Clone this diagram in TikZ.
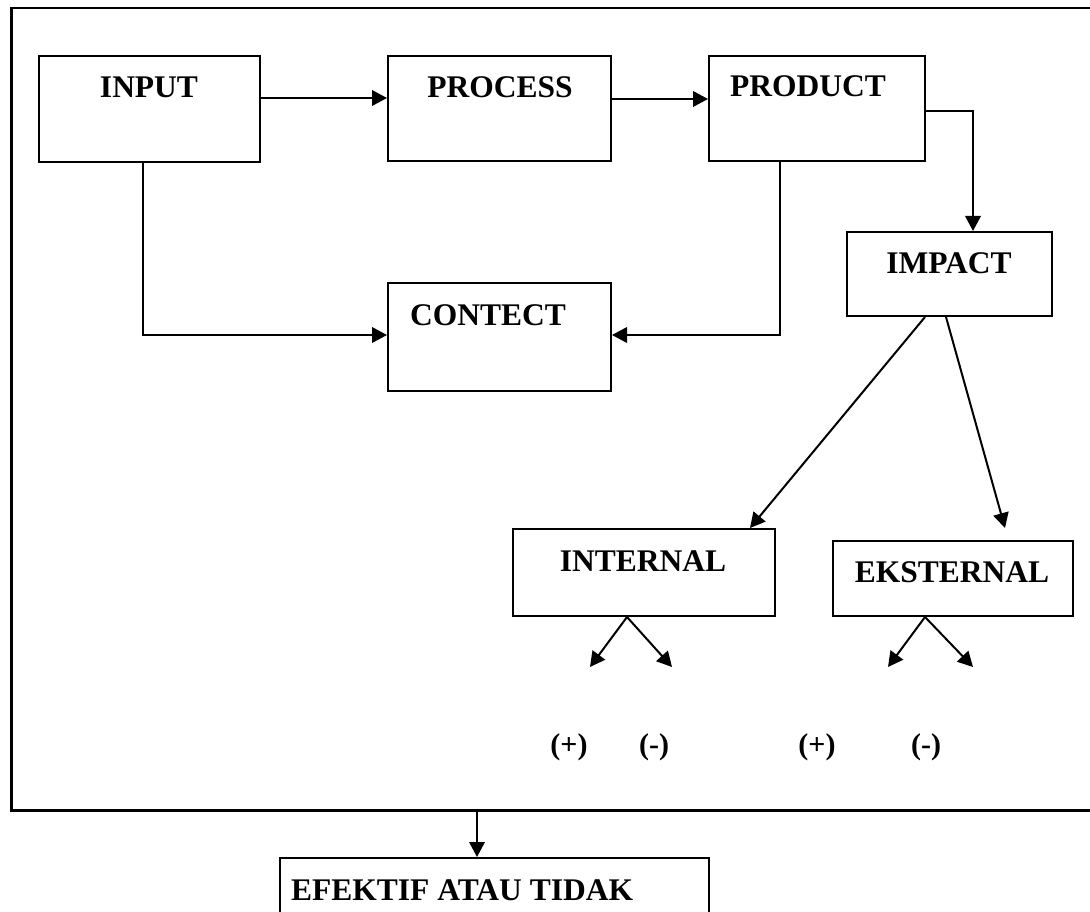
\documentclass[tikz,border=0pt]{standalone}
\usepackage{fontspec}
\setmainfont{Liberation Serif}
\usetikzlibrary{arrows.meta}
\begin{document}
\begin{tikzpicture}[x=1pt,y=-1pt,
  box/.style={draw,line width=2pt,inner sep=0pt},
  txt/.style={font=\fontsize{31.5}{36}\selectfont\bfseries,anchor=base,inner sep=0pt},
  sgn/.style={font=\fontsize{30}{34}\selectfont\bfseries,anchor=base,inner sep=0pt},
  arr/.style={line width=2pt,-{Triangle[length=15pt,width=15.5pt]}}]
\useasboundingbox (0,0) rectangle (1090,912);
\clip (0,0) rectangle (1090,912);
% outer frame
\node[draw,line width=2.5pt,inner sep=0pt,minimum width=1100pt,minimum height=802pt,anchor=north west] (frame) at (10,7) {};
% boxes
\node[box,minimum width=221pt,minimum height=106pt] (input) at (149.5,109) {};
\node[box,minimum width=223pt,minimum height=105pt] (process) at (499.5,108.5) {};
\node[box,minimum width=216pt,minimum height=105pt] (product) at (817,108.5) {};
\node[box,minimum width=223pt,minimum height=108pt] (contect) at (499.5,337) {};
\node[box,minimum width=205pt,minimum height=84pt] (impact) at (949.5,274) {};
\node[box,minimum width=262pt,minimum height=87pt] (internal) at (644,572.5) {};
\node[box,minimum width=240pt,minimum height=75pt] (eksternal) at (953,578.5) {};
\node[box,minimum width=429pt,minimum height=102pt] (efektif) at (494.5,909) {};
% texts
\node[txt] (tinput) at (149,98) {INPUT};
\node[txt] (tprocess) at (500,98) {PROCESS};
\node[txt] (tproduct) at (808,97) {PRODUCT};
\node[txt] (tcontect) at (488,325) {CONTECT};
\node[txt] (timpact) at (949,273) {IMPACT};
\node[txt] (tinternal) at (643,571) {INTERNAL};
\node[txt] (teksternal) at (952,582) {EKSTERNAL};
\node[txt,anchor=base west] (tefektif) at (291,900) {EFEKTIF ATAU TIDAK};
\node[sgn] (p1) at (569,754) {(+)};
\node[sgn] (m1) at (654,754) {(-)};
\node[sgn] (p2) at (817,754) {(+)};
\node[sgn] (m2) at (926,754) {(-)};
% helper coordinates
\coordinate (y98) at (0,98);
\coordinate (y99) at (0,99);
\coordinate (pi) at (973,111);
\coordinate (ic) at (143,335);
\coordinate (pc) at (780,335);
\coordinate (s1) at (925,316);
\coordinate (e1) at (750,528);
\coordinate (s2) at (946,316);
\coordinate (e2) at (1005,528);
\coordinate (ia) at (627,616);
\coordinate (ib) at (590,667);
\coordinate (ic2) at (672,667);
\coordinate (ea) at (925,616);
\coordinate (eb) at (888,667);
\coordinate (ec) at (973,667);
\coordinate (fx) at (477,0);
% connectors
\draw[arr] (input.east |- y98) -- (process.west |- y98);
\draw[arr] (process.east |- y99) -- (product.west |- y99);
\draw[arr] (product.east |- pi) -| (impact.north -| pi);
\draw[arr] (input.south -| ic) |- (contect.west |- ic);
\draw[arr] (product.south -| pc) |- (contect.east |- pc);
\draw[arr] (impact.south -| s1) -- (internal.north -| e1);
\draw[arr] (impact.south -| s2) -- (e2);
\draw[arr] (internal.south -| ia) -- (ib);
\draw[arr] (internal.south -| ia) -- (ic2);
\draw[arr] (eksternal.south -| ea) -- (eb);
\draw[arr] (eksternal.south -| ea) -- (ec);
\draw[arr] (frame.south -| fx) -- (efektif.north -| fx);
\end{tikzpicture}
\end{document}
